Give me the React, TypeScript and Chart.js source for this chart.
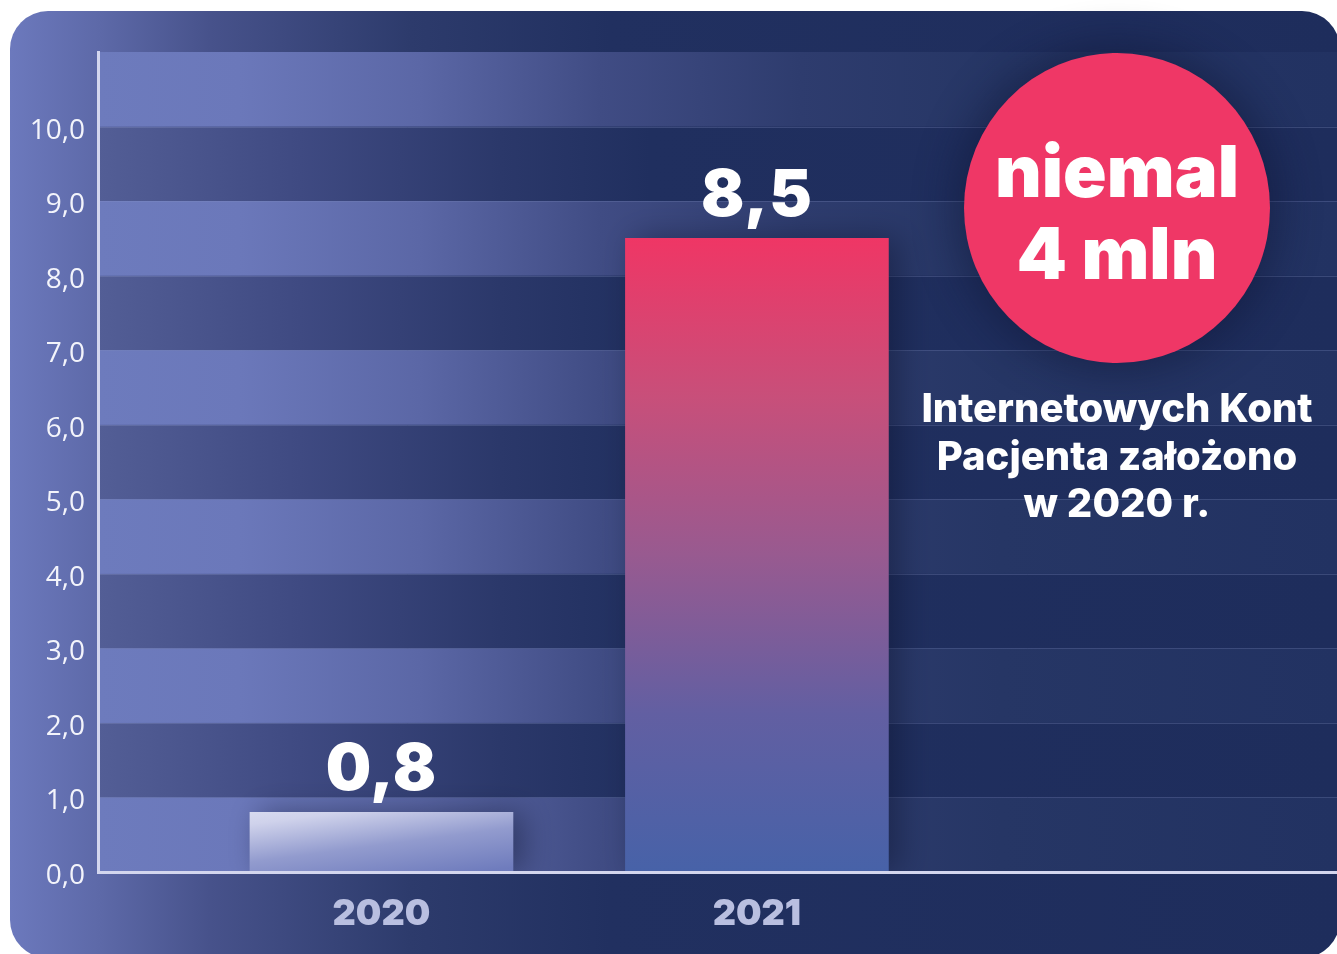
import React, { useEffect, useRef } from 'react';
import { Chart, registerables } from 'chart.js';

Chart.register(...registerables);

// ---- data ----
const categories = ['2020', '2021'];
const values = [0.8, 8.5];
const yMin = 0;
const yMax = 11;
const yLabelMax = 10;
const yStep = 1;
const calloutLines = ['niemal', '4 mln'];
const captionLines = ['Internetowych Kont', 'Pacjenta założono', 'w 2020 r.'];

const fmt = (v: number) => v.toFixed(1).replace('.', ',');

const W = 1337;
const H = 954;

function addStops(g: CanvasGradient, left: number, right: number, stops: [number, string][]) {
  const span = right - left;
  stops.forEach(([x, c]) => {
    const t = Math.min(1, Math.max(0, (x - left) / span));
    g.addColorStop(t, c);
  });
}

const bandsPlugin = {
  id: 'bands',
  beforeDraw(chart: any) {
    const { ctx, chartArea: a, scales } = chart;
    if (!a) return;
    const y = scales.y;
    const light = ctx.createLinearGradient(a.left, 0, a.right, 0);
    addStops(light, a.left, a.right, [
      [a.left, '#6d7bbd'],
      [240, '#6b78ba'],
      [420, '#5b67a6'],
      [600, '#404c84'],
      [800, '#2e3c6e'],
      [1000, '#263665'],
      [a.right, '#223262'],
    ]);
    const dark = ctx.createLinearGradient(a.left, 0, a.right, 0);
    addStops(dark, a.left, a.right, [
      [a.left, '#535e96'],
      [300, '#3f4a82'],
      [500, '#2b386a'],
      [650, '#202f5f'],
      [a.right, '#1e2d5c'],
    ]);
    ctx.save();
    for (let i = yMin; i < yMax; i += yStep) {
      const top = y.getPixelForValue(i + yStep);
      const bottom = y.getPixelForValue(i);
      ctx.fillStyle = (i / yStep) % 2 === 0 ? light : dark;
      ctx.fillRect(a.left, top, a.right - a.left, bottom - top);
    }
    ctx.strokeStyle = 'rgba(160,172,225,0.22)';
    ctx.lineWidth = 1;
    for (let i = yMin + yStep; i < yMax; i += yStep) {
      const p = Math.round(y.getPixelForValue(i)) + 0.5;
      ctx.beginPath();
      ctx.moveTo(a.left, p);
      ctx.lineTo(a.right, p);
      ctx.stroke();
    }
    ctx.restore();
  },
  beforeDatasetDraw(chart: any) {
    const ctx = chart.ctx;
    ctx.save();
    ctx.shadowColor = 'rgba(12,18,45,0.45)';
    ctx.shadowBlur = 30;
    ctx.shadowOffsetX = 10;
    ctx.shadowOffsetY = 0;
  },
  afterDatasetDraw(chart: any) {
    chart.ctx.restore();
  },
};

const valueLabelsPlugin = {
  id: 'valueLabels',
  afterDatasetsDraw(chart: any) {
    const { ctx } = chart;
    const meta = chart.getDatasetMeta(0);
    ctx.save();
    ctx.fillStyle = '#ffffff';
    ctx.textAlign = 'center';
    ctx.textBaseline = 'alphabetic';
    ctx.font = '900 64px Inter, Lato, sans-serif';
    try { (ctx as any).letterSpacing = '1px'; } catch (e) {}
    meta.data.forEach((bar: any, i: number) => {
      ctx.fillText(fmt(values[i]), bar.x, bar.y - 22);
    });
    ctx.restore();
  },
};

function barColor(c: any) {
  const chart = c.chart;
  const i = c.dataIndex;
  if (!chart.chartArea || i === undefined) return '#6e7bbd';
  const ys = chart.scales.y;
  const xs = chart.scales.x;
  const top = ys.getPixelForValue(values[i]);
  const bottom = ys.getPixelForValue(0);
  const cx = xs.getPixelForValue(i + 1);
  const ctx = chart.ctx;
  if (i === 0) {
    const x0 = cx - 131;
    const g = ctx.createLinearGradient(x0, top, x0 + 13, top + 98);
    g.addColorStop(0, '#d7daef');
    g.addColorStop(0.12, '#cfd2eb');
    g.addColorStop(0.5, '#929bce');
    g.addColorStop(0.9, '#6f7cbd');
    g.addColorStop(1, '#6d7abc');
    return g;
  }
  const g = ctx.createLinearGradient(0, top, 0, bottom);
  g.addColorStop(0, '#ef3665');
  g.addColorStop(0.25, '#c84f7a');
  g.addColorStop(0.5, '#985a90');
  g.addColorStop(0.75, '#625fa2');
  g.addColorStop(1, '#4762a8');
  return g;
}

export default function App() {
  const ref = useRef<HTMLCanvasElement | null>(null);

  useEffect(() => {
    if (!ref.current) return;
    const chart = new Chart(ref.current, {
      type: 'bar',
      data: {
        datasets: [
          {
            data: values.map((v, i) => ({ x: i + 1, y: v })),
            backgroundColor: barColor,
            borderWidth: 0,
            barThickness: 263,
          } as any,
        ],
      },
      options: {
        responsive: false,
        animation: false,
        layout: { padding: { top: 52, left: 0, right: 0, bottom: 0 } },
        plugins: { legend: { display: false }, tooltip: { enabled: false } },
        scales: {
          x: {
            type: 'linear',
            min: 0.245,
            max: 3.545,
            offset: false,
            grid: { display: false, drawTicks: false },
            border: { display: true, color: '#d3d6ee', width: 3, z: 1 },
            afterBuildTicks: (s: any) => {
              s.ticks = categories.map((_, i) => ({ value: i + 1 }));
            },
            ticks: {
              callback: (v: any) => categories[Number(v) - 1] ?? '',
              color: '#b9bfe0',
              font: { family: 'Inter, Roboto, sans-serif', weight: '900', size: 36 },
              padding: 21,
              maxRotation: 0,
              autoSkip: false,
            },
            afterFit: (s: any) => {
              s.height = H - 872;
            },
          } as any,
          y: {
            min: yMin,
            max: yMax,
            grid: { display: false, drawTicks: false },
            border: { display: true, color: '#d3d6ee', width: 3, z: 1 },
            ticks: {
              stepSize: yStep,
              callback: (v: any) => (Number(v) <= yLabelMax ? fmt(Number(v)) : ''),
              color: '#f3f4fb',
              font: { family: '"Open Sans", sans-serif', weight: '400', size: 28 },
              padding: 13,
              labelOffset: 4,
            },
            afterFit: (s: any) => {
              s.width = 98;
            },
          } as any,
        },
      },
      plugins: [bandsPlugin, valueLabelsPlugin],
    });
    return () => chart.destroy();
  }, []);

  return (
    <div
      style={{
        position: 'absolute',
        left: 0,
        top: 0,
        width: W,
        height: H,
        overflow: 'hidden',
        background: '#ffffff',
      }}
    >
      <div
        style={{
          position: 'absolute',
          left: 10,
          top: 11,
          width: 1330,
          height: 947,
          borderRadius: 38,
          background:
            'linear-gradient(90deg, #6c79bd 0px, #5d69a8 90px, #47528b 200px, #2d3b6c 400px, #213060 600px, #1e2d5c 100%)',
        }}
      />
      <canvas
        ref={ref}
        width={W}
        height={H}
        style={{ position: 'absolute', left: 0, top: 0, width: W, height: H }}
      />
      <div
        style={{
          position: 'absolute',
          left: 1117 - 153,
          top: 208 - 155,
          width: 306,
          height: 310,
          borderRadius: '50%',
          background: '#ef3766',
          boxShadow: '0 0 40px 10px rgba(14,20,50,0.45)',
        }}
      />
      {calloutLines.map((t, i) => (
        <div
          key={t}
          style={{
            position: 'absolute',
            left: 1117 - 200,
            width: 400,
            top: 135 + i * 82,
            textAlign: 'center',
            color: '#ffffff',
            fontFamily: 'Inter, Lato, sans-serif',
            fontWeight: 900,
            fontSize: 72,
            lineHeight: '72px',
            letterSpacing: 0,
            whiteSpace: 'nowrap',
          }}
        >
          {t}
        </div>
      ))}
      <div
        style={{
          position: 'absolute',
          left: 1117 - 260,
          width: 520,
          top: 384,
          textAlign: 'center',
          color: '#ffffff',
          fontFamily: 'Inter, Lato, sans-serif',
          fontWeight: 800,
          fontSize: 40,
          lineHeight: '47.5px',
          letterSpacing: 0,
          whiteSpace: 'nowrap',
        }}
      >
        {captionLines.map((t) => (
          <div key={t}>{t}</div>
        ))}
      </div>
    </div>
  );
}
